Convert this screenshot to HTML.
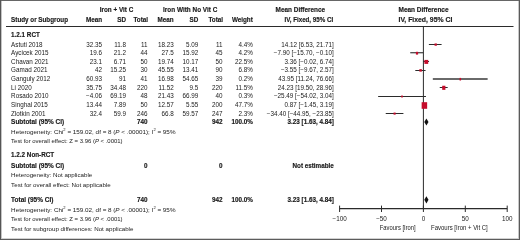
<!DOCTYPE html>
<html><head><meta charset="utf-8"><style>
html,body{margin:0;padding:0;background:#fff;}
body{width:520px;height:240px;overflow:hidden;}
svg{display:block;font-family:"Liberation Sans",sans-serif;will-change:transform;}
</style></head><body>
<svg width="520" height="240" viewBox="0 0 520 240" fill="#1a1a1a">
<rect x="0" y="0" width="520" height="240" fill="#fff"/>
<rect x="6" y="26" width="507.5" height="1" fill="#2b2b2b"/>
<line x1="423.40" y1="26" x2="423.40" y2="208.6" stroke="#2b2b2b" stroke-width="1"/>
<line x1="339.60" y1="208.6" x2="507.20" y2="208.6" stroke="#2b2b2b" stroke-width="1.3"/>
<line x1="339.60" y1="205.6" x2="339.60" y2="212" stroke="#2b2b2b" stroke-width="1"/>
<line x1="381.50" y1="205.6" x2="381.50" y2="212" stroke="#2b2b2b" stroke-width="1"/>
<line x1="423.40" y1="205.6" x2="423.40" y2="212" stroke="#2b2b2b" stroke-width="1"/>
<line x1="465.30" y1="205.6" x2="465.30" y2="212" stroke="#2b2b2b" stroke-width="1"/>
<line x1="507.20" y1="205.6" x2="507.20" y2="212" stroke="#2b2b2b" stroke-width="1"/>
<rect x="428.87" y="44" width="12.72" height="1" fill="#2b2b2b"/>
<rect x="434.55" y="43.45" width="2.3" height="2.3" fill="#c50d2c"/>
<rect x="410.24" y="52.2" width="13.07" height="1.1" fill="#2b2b2b"/>
<rect x="415.90" y="51.80" width="2.2" height="2.8" fill="#c50d2c"/>
<rect x="423.38" y="61" width="5.66" height="1" fill="#2b2b2b"/>
<rect x="424.40" y="59.90" width="3.8" height="4.0" fill="#c50d2c"/>
<rect x="415.30" y="70" width="10.26" height="1" fill="#2b2b2b"/>
<rect x="419.35" y="69.15" width="2.5" height="2.5" fill="#c50d2c"/>
<rect x="432.82" y="78.3" width="54.82" height="1.4" fill="#2b2b2b"/>
<rect x="459.55" y="77.90" width="1.5" height="2.6" fill="#c50d2c"/>
<rect x="439.74" y="87" width="7.93" height="1" fill="#2b2b2b"/>
<rect x="442.20" y="85.75" width="3.2" height="4.1" fill="#c50d2c"/>
<rect x="378.13" y="96" width="47.82" height="1" fill="#2b2b2b"/>
<rect x="401.20" y="95.50" width="1.6" height="2.0" fill="#c50d2c"/>
<rect x="422.18" y="104.5" width="3.89" height="1" fill="#2b2b2b"/>
<rect x="421.65" y="102.20" width="5.5" height="6.6" fill="#c50d2c"/>
<rect x="385.73" y="113" width="17.68" height="1" fill="#2b2b2b"/>
<rect x="393.55" y="112.55" width="2.1" height="2.1" fill="#c50d2c"/>
<polygon points="424.3,122 426.4,118.4 428.5,122 426.4,125.6" fill="#111"/>
<polygon points="424.3,199.8 426.4,196.20000000000002 428.5,199.8 426.4,203.4" fill="#111"/>
<text x="99.7" y="12" font-size="6.3" font-weight="bold" stroke="#1a1a1a" stroke-width="0.15" textLength="33.6" lengthAdjust="spacingAndGlyphs">Iron + Vit C</text>
<text x="163.1" y="12" font-size="6.3" font-weight="bold" stroke="#1a1a1a" stroke-width="0.15" textLength="54.2" lengthAdjust="spacingAndGlyphs">Iron With No Vit C</text>
<text x="275.6" y="12" font-size="6.3" font-weight="bold" stroke="#1a1a1a" stroke-width="0.15" textLength="49.6" lengthAdjust="spacingAndGlyphs">Mean Difference</text>
<text x="398.5" y="12" font-size="6.3" font-weight="bold" stroke="#1a1a1a" stroke-width="0.15" textLength="50.1" lengthAdjust="spacingAndGlyphs">Mean Difference</text>
<text x="11.1" y="22.2" font-size="6.3" font-weight="bold" stroke="#1a1a1a" stroke-width="0.15" textLength="56.9" lengthAdjust="spacingAndGlyphs">Study or Subgroup</text>
<text x="102" y="22.2" font-size="6.3" font-weight="bold" stroke="#1a1a1a" stroke-width="0.15" text-anchor="end">Mean</text>
<text x="126" y="22.2" font-size="6.3" font-weight="bold" stroke="#1a1a1a" stroke-width="0.15" text-anchor="end">SD</text>
<text x="148" y="22.2" font-size="6.3" font-weight="bold" stroke="#1a1a1a" stroke-width="0.15" text-anchor="end">Total</text>
<text x="173.7" y="22.2" font-size="6.3" font-weight="bold" stroke="#1a1a1a" stroke-width="0.15" text-anchor="end">Mean</text>
<text x="198.2" y="22.2" font-size="6.3" font-weight="bold" stroke="#1a1a1a" stroke-width="0.15" text-anchor="end">SD</text>
<text x="223" y="22.2" font-size="6.3" font-weight="bold" stroke="#1a1a1a" stroke-width="0.15" text-anchor="end">Total</text>
<text x="252.8" y="22.2" font-size="6.3" font-weight="bold" stroke="#1a1a1a" stroke-width="0.15" text-anchor="end">Weight</text>
<text x="284.5" y="22.2" font-size="6.3" font-weight="bold" stroke="#1a1a1a" stroke-width="0.15" textLength="48.6" lengthAdjust="spacingAndGlyphs">IV, Fixed, 95% CI</text>
<text x="398.5" y="22.2" font-size="6.3" font-weight="bold" stroke="#1a1a1a" stroke-width="0.15" textLength="53.8" lengthAdjust="spacingAndGlyphs">IV, Fixed, 95% CI</text>
<text x="11.1" y="36.7" font-size="6.3" font-weight="bold" stroke="#1a1a1a" stroke-width="0.15">1.2.1 RCT</text>
<text x="11.1" y="46.5" font-size="6.3">Astuti 2018</text>
<text x="102" y="46.5" font-size="6.3" text-anchor="end">32.35</text>
<text x="126" y="46.5" font-size="6.3" text-anchor="end">11.8</text>
<text x="147.6" y="46.5" font-size="6.3" text-anchor="end">11</text>
<text x="173.7" y="46.5" font-size="6.3" text-anchor="end">18.23</text>
<text x="198.2" y="46.5" font-size="6.3" text-anchor="end">5.09</text>
<text x="222.6" y="46.5" font-size="6.3" text-anchor="end">11</text>
<text x="252.8" y="46.5" font-size="6.3" text-anchor="end">4.4%</text>
<text x="333.8" y="46.5" font-size="6.3" text-anchor="end">14.12 [6.53, 21.71]</text>
<text x="11.1" y="55.125" font-size="6.3">Aycicek 2015</text>
<text x="102" y="55.125" font-size="6.3" text-anchor="end">19.6</text>
<text x="126" y="55.125" font-size="6.3" text-anchor="end">21.2</text>
<text x="147.6" y="55.125" font-size="6.3" text-anchor="end">44</text>
<text x="173.7" y="55.125" font-size="6.3" text-anchor="end">27.5</text>
<text x="198.2" y="55.125" font-size="6.3" text-anchor="end">15.92</text>
<text x="222.6" y="55.125" font-size="6.3" text-anchor="end">45</text>
<text x="252.8" y="55.125" font-size="6.3" text-anchor="end">4.2%</text>
<text x="333.8" y="55.125" font-size="6.3" text-anchor="end">−7.90 [−15.70, −0.10]</text>
<text x="11.1" y="63.75" font-size="6.3">Chavan 2021</text>
<text x="102" y="63.75" font-size="6.3" text-anchor="end">23.1</text>
<text x="126" y="63.75" font-size="6.3" text-anchor="end">6.71</text>
<text x="147.6" y="63.75" font-size="6.3" text-anchor="end">50</text>
<text x="173.7" y="63.75" font-size="6.3" text-anchor="end">19.74</text>
<text x="198.2" y="63.75" font-size="6.3" text-anchor="end">10.17</text>
<text x="222.6" y="63.75" font-size="6.3" text-anchor="end">50</text>
<text x="252.8" y="63.75" font-size="6.3" text-anchor="end">22.5%</text>
<text x="333.8" y="63.75" font-size="6.3" text-anchor="end">3.36 [−0.02, 6.74]</text>
<text x="11.1" y="72.375" font-size="6.3">Gamad 2021</text>
<text x="102" y="72.375" font-size="6.3" text-anchor="end">42</text>
<text x="126" y="72.375" font-size="6.3" text-anchor="end">15.25</text>
<text x="147.6" y="72.375" font-size="6.3" text-anchor="end">30</text>
<text x="173.7" y="72.375" font-size="6.3" text-anchor="end">45.55</text>
<text x="198.2" y="72.375" font-size="6.3" text-anchor="end">13.41</text>
<text x="222.6" y="72.375" font-size="6.3" text-anchor="end">90</text>
<text x="252.8" y="72.375" font-size="6.3" text-anchor="end">6.8%</text>
<text x="333.8" y="72.375" font-size="6.3" text-anchor="end">−3.55 [−9.67, 2.57]</text>
<text x="11.1" y="81.0" font-size="6.3">Ganguly 2012</text>
<text x="102" y="81.0" font-size="6.3" text-anchor="end">60.93</text>
<text x="126" y="81.0" font-size="6.3" text-anchor="end">91</text>
<text x="147.6" y="81.0" font-size="6.3" text-anchor="end">41</text>
<text x="173.7" y="81.0" font-size="6.3" text-anchor="end">16.98</text>
<text x="198.2" y="81.0" font-size="6.3" text-anchor="end">54.65</text>
<text x="222.6" y="81.0" font-size="6.3" text-anchor="end">39</text>
<text x="252.8" y="81.0" font-size="6.3" text-anchor="end">0.2%</text>
<text x="333.8" y="81.0" font-size="6.3" text-anchor="end">43.95 [11.24, 76.66]</text>
<text x="11.1" y="89.625" font-size="6.3">Li 2020</text>
<text x="102" y="89.625" font-size="6.3" text-anchor="end">35.75</text>
<text x="126" y="89.625" font-size="6.3" text-anchor="end">34.48</text>
<text x="147.6" y="89.625" font-size="6.3" text-anchor="end">220</text>
<text x="173.7" y="89.625" font-size="6.3" text-anchor="end">11.52</text>
<text x="198.2" y="89.625" font-size="6.3" text-anchor="end">9.5</text>
<text x="222.6" y="89.625" font-size="6.3" text-anchor="end">220</text>
<text x="252.8" y="89.625" font-size="6.3" text-anchor="end">11.5%</text>
<text x="333.8" y="89.625" font-size="6.3" text-anchor="end">24.23 [19.50, 28.96]</text>
<text x="11.1" y="98.25" font-size="6.3">Rosado 2010</text>
<text x="102" y="98.25" font-size="6.3" text-anchor="end">−4.06</text>
<text x="126" y="98.25" font-size="6.3" text-anchor="end">69.19</text>
<text x="147.6" y="98.25" font-size="6.3" text-anchor="end">48</text>
<text x="173.7" y="98.25" font-size="6.3" text-anchor="end">21.43</text>
<text x="198.2" y="98.25" font-size="6.3" text-anchor="end">66.99</text>
<text x="222.6" y="98.25" font-size="6.3" text-anchor="end">40</text>
<text x="252.8" y="98.25" font-size="6.3" text-anchor="end">0.3%</text>
<text x="333.8" y="98.25" font-size="6.3" text-anchor="end">−25.49 [−54.02, 3.04]</text>
<text x="11.1" y="106.875" font-size="6.3">Singhal 2015</text>
<text x="102" y="106.875" font-size="6.3" text-anchor="end">13.44</text>
<text x="126" y="106.875" font-size="6.3" text-anchor="end">7.89</text>
<text x="147.6" y="106.875" font-size="6.3" text-anchor="end">50</text>
<text x="173.7" y="106.875" font-size="6.3" text-anchor="end">12.57</text>
<text x="198.2" y="106.875" font-size="6.3" text-anchor="end">5.55</text>
<text x="222.6" y="106.875" font-size="6.3" text-anchor="end">200</text>
<text x="252.8" y="106.875" font-size="6.3" text-anchor="end">47.7%</text>
<text x="333.8" y="106.875" font-size="6.3" text-anchor="end">0.87 [−1.45, 3.19]</text>
<text x="11.1" y="115.5" font-size="6.3">Zlotkin 2001</text>
<text x="102" y="115.5" font-size="6.3" text-anchor="end">32.4</text>
<text x="126" y="115.5" font-size="6.3" text-anchor="end">59.9</text>
<text x="147.6" y="115.5" font-size="6.3" text-anchor="end">246</text>
<text x="173.7" y="115.5" font-size="6.3" text-anchor="end">66.8</text>
<text x="198.2" y="115.5" font-size="6.3" text-anchor="end">59.57</text>
<text x="222.6" y="115.5" font-size="6.3" text-anchor="end">247</text>
<text x="252.8" y="115.5" font-size="6.3" text-anchor="end">2.3%</text>
<text x="333.8" y="115.5" font-size="6.3" text-anchor="end">−34.40 [−44.95, −23.85]</text>
<text x="11.1" y="124" font-size="6.3" font-weight="bold" stroke="#1a1a1a" stroke-width="0.15" textLength="53.0" lengthAdjust="spacingAndGlyphs">Subtotal (95% CI)</text>
<text x="147.6" y="124" font-size="6.3" font-weight="bold" stroke="#1a1a1a" stroke-width="0.15" text-anchor="end">740</text>
<text x="222.6" y="124" font-size="6.3" font-weight="bold" stroke="#1a1a1a" stroke-width="0.15" text-anchor="end">942</text>
<text x="252.8" y="124" font-size="6.3" font-weight="bold" stroke="#1a1a1a" stroke-width="0.15" text-anchor="end">100.0%</text>
<text x="333.8" y="124" font-size="6.3" font-weight="bold" stroke="#1a1a1a" stroke-width="0.15" text-anchor="end">3.23 [1.63, 4.84]</text>
<text x="11.1" y="133.6" font-size="6.2" textLength="100.5" lengthAdjust="spacingAndGlyphs">Heterogeneity: Chi<tspan font-size="4" dy="-2.2">2</tspan><tspan dy="2.2"> = 159.02, df = 8</tspan></text>
<text x="113.2" y="133.6" font-size="6.2" textLength="62.3" lengthAdjust="spacingAndGlyphs">(<tspan font-style="italic">P</tspan> &lt; .00001); I<tspan font-size="4" dy="-2.2">2</tspan><tspan dy="2.2"> = 95%</tspan></text>
<text x="11.1" y="143" font-size="6.2" textLength="111.5" lengthAdjust="spacingAndGlyphs">Test for overall effect: Z = 3.96 (<tspan font-style="italic">P</tspan> &lt; .0001)</text>
<text x="11.1" y="157.3" font-size="6.3" font-weight="bold" stroke="#1a1a1a" stroke-width="0.15">1.2.2 Non-RCT</text>
<text x="11.1" y="168" font-size="6.3" font-weight="bold" stroke="#1a1a1a" stroke-width="0.15" textLength="53.0" lengthAdjust="spacingAndGlyphs">Subtotal (95% CI)</text>
<text x="147.6" y="168" font-size="6.3" font-weight="bold" stroke="#1a1a1a" stroke-width="0.15" text-anchor="end">0</text>
<text x="222.6" y="168" font-size="6.3" font-weight="bold" stroke="#1a1a1a" stroke-width="0.15" text-anchor="end">0</text>
<text x="333.8" y="168" font-size="6.3" font-weight="bold" stroke="#1a1a1a" stroke-width="0.15" text-anchor="end">Not estimable</text>
<text x="11.1" y="177.2" font-size="6.2">Heterogeneity: Not applicable</text>
<text x="11.1" y="187.3" font-size="6.2">Test for overall effect: Not applicable</text>
<text x="11.1" y="201.8" font-size="6.3" font-weight="bold" stroke="#1a1a1a" stroke-width="0.15" textLength="42.3" lengthAdjust="spacingAndGlyphs">Total (95% CI)</text>
<text x="147.6" y="201.8" font-size="6.3" font-weight="bold" stroke="#1a1a1a" stroke-width="0.15" text-anchor="end">740</text>
<text x="222.6" y="201.8" font-size="6.3" font-weight="bold" stroke="#1a1a1a" stroke-width="0.15" text-anchor="end">942</text>
<text x="252.8" y="201.8" font-size="6.3" font-weight="bold" stroke="#1a1a1a" stroke-width="0.15" text-anchor="end">100.0%</text>
<text x="333.8" y="201.8" font-size="6.3" font-weight="bold" stroke="#1a1a1a" stroke-width="0.15" text-anchor="end">3.23 [1.63, 4.84]</text>
<text x="11.1" y="211.5" font-size="6.2" textLength="100.5" lengthAdjust="spacingAndGlyphs">Heterogeneity: Chi<tspan font-size="4" dy="-2.2">2</tspan><tspan dy="2.2"> = 159.02, df = 8</tspan></text>
<text x="113.2" y="211.5" font-size="6.2" textLength="62.3" lengthAdjust="spacingAndGlyphs">(<tspan font-style="italic">P</tspan> &lt; .00001); I<tspan font-size="4" dy="-2.2">2</tspan><tspan dy="2.2"> = 95%</tspan></text>
<text x="11.1" y="221.1" font-size="6.2" textLength="111.5" lengthAdjust="spacingAndGlyphs">Test for overall effect: Z = 3.96 (<tspan font-style="italic">P</tspan> &lt; .0001)</text>
<text x="11.1" y="231" font-size="6.2">Test for subgroup differences: Not applicable</text>
<text x="339.6" y="220.8" font-size="6.3" text-anchor="middle">−100</text>
<text x="381.5" y="220.8" font-size="6.3" text-anchor="middle">−50</text>
<text x="423.4" y="220.8" font-size="6.3" text-anchor="middle">0</text>
<text x="465.3" y="220.8" font-size="6.3" text-anchor="middle">50</text>
<text x="507.2" y="220.8" font-size="6.3" text-anchor="middle">100</text>
<text x="379.8" y="229.8" font-size="6.3" textLength="35.9" lengthAdjust="spacingAndGlyphs">Favours [Iron]</text>
<text x="431.0" y="229.8" font-size="6.3" textLength="56.8" lengthAdjust="spacingAndGlyphs">Favours [Iron + Vit C]</text>
<rect x="0" y="0" width="520" height="1" fill="#666"/>
<rect x="1" y="238" width="518" height="1" fill="#d2d2d2"/>
<rect x="0" y="239" width="520" height="1" fill="#5c5c5c"/>
<rect x="1" y="1" width="1" height="238" fill="#c4c4c4"/>
<rect x="0" y="0" width="1" height="240" fill="#555"/>
<rect x="518" y="1" width="1" height="238" fill="#c8c8c8"/>
<rect x="519" y="0" width="1" height="240" fill="#5a5a5a"/>
</svg>
</body></html>
